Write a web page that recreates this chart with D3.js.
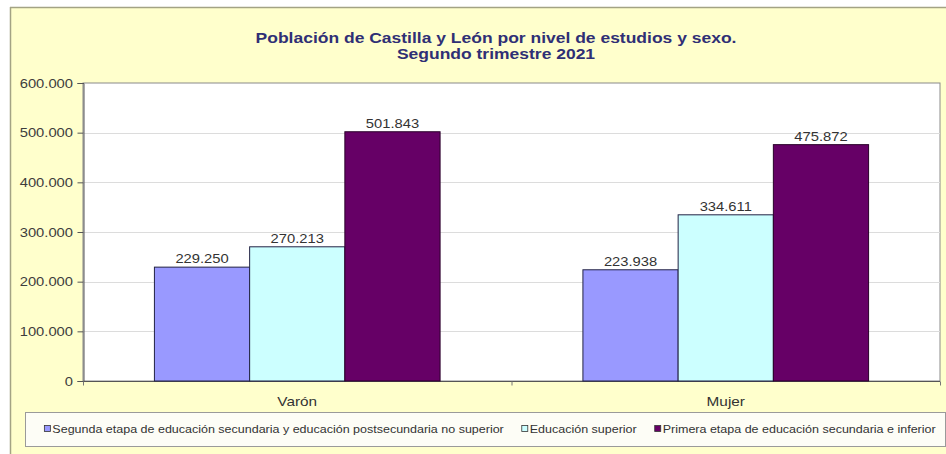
<!DOCTYPE html>
<html>
<head>
<meta charset="utf-8">
<script src="https://cdn.jsdelivr.net/npm/d3@7"></script>
<style>
  html, body { margin: 0; padding: 0; background: #ffffff; }
  svg { display: block; font-family: "Liberation Sans", Arial, sans-serif; }
</style>
</head>
<body>
<svg id="chart" width="946" height="454"></svg>
<script>
// ---- data ----
const categories = ["Varón", "Mujer"];
const seriesNames = [
  "Segunda etapa de educación secundaria y educación postsecundaria no superior",
  "Educación superior",
  "Primera etapa de educación secundaria e inferior"
];
const segundaEtapa = [229250, 223938];
const educacionSuperior = [270213, 334611];
const primeraEtapa = [501843, 475872];
const yTicks = [0, 100000, 200000, 300000, 400000, 500000, 600000];
const titleLines = ["Población de Castilla y León por nivel de estudios y sexo.", "Segundo trimestre 2021"];
const seriesColors = ["#9999FF", "#CCFFFF", "#660066"];

// ---- layout ----
const W = 946, H = 454;
const SX = 1.18; // horizontal stretch of all text
const plot = { left: 83, top: 83, right: 940, bottom: 381 };
const svg = d3.select("#chart");

const locale = d3.formatLocale({ decimal: ",", thousands: ".", grouping: [3], currency: ["", "€"] });
const fmt = locale.format(",d");

function stretchedText(g, x, y, str, opts) {
  const t = g.append("text")
    .attr("transform", `translate(${x},${y}) scale(${opts.sx || SX},1)`)
    .attr("text-anchor", opts.anchor || "start")
    .attr("font-size", opts.size)
    .attr("font-weight", opts.weight || "normal")
    .attr("fill", opts.fill || "#333")
    .text(str);
  return t;
}

// outer chart area
svg.append("rect").attr("x", 10).attr("y", 7).attr("width", W - 10).attr("height", H - 7)
  .attr("fill", "#FFFFCC");
svg.append("line").attr("x1", 10).attr("x2", W).attr("y1", 7.5).attr("y2", 7.5)
  .attr("stroke", "#a3a384").attr("stroke-width", 1.5);
svg.append("line").attr("x1", 10.5).attr("x2", 10.5).attr("y1", 7).attr("y2", H)
  .attr("stroke", "#a3a384").attr("stroke-width", 1.5);

// title
const tg = svg.append("g");
titleLines.forEach((s, i) => {
  stretchedText(tg, 496, 43 + i * 15.5, s, { anchor: "middle", size: 14, sx: 1.25, weight: "bold", fill: "#2f2f75" });
});

// scales
const x0 = d3.scaleBand().domain(categories).range([plot.left, plot.right]).padding(0);
const bw = x0.bandwidth();
const gapHalf = bw * 0.75 / 4.5;
const x1 = d3.scaleBand().domain(d3.range(seriesNames.length)).range([gapHalf, bw - gapHalf]).padding(0);
const y = d3.scaleLinear().domain([0, 600000]).range([plot.bottom, plot.top]);

// plot area
svg.append("rect").attr("x", plot.left).attr("y", plot.top)
  .attr("width", plot.right - plot.left).attr("height", plot.bottom - plot.top)
  .attr("fill", "#ffffff").attr("stroke", "#8a8a8a").attr("stroke-width", 1);

// gridlines
svg.append("g").selectAll("line").data(yTicks.filter(d => d > 0 && d < 600000)).join("line")
  .attr("x1", plot.left).attr("x2", plot.right)
  .attr("y1", d => Math.round(y(d)) + 0.5).attr("y2", d => Math.round(y(d)) + 0.5)
  .attr("stroke", "#dcdcdc").attr("stroke-width", 1);

// y axis
const yAxis = svg.append("g").attr("transform", `translate(${plot.left + 0.5},0)`)
  .call(d3.axisLeft(y).tickValues(yTicks).tickSize(6).tickFormat(""));
yAxis.select(".domain").attr("stroke", "#555");
yAxis.selectAll(".tick line").attr("stroke", "#555");
const ylab = svg.append("g");
yTicks.forEach(v => {
  stretchedText(ylab, 73, y(v) + 4.5, fmt(v), { anchor: "end", size: 12.5, fill: "#3d3d3d" });
});

// x axis
const xAxisG = svg.append("g").attr("transform", `translate(0,${plot.bottom + 0.5})`);
xAxisG.append("line").attr("x1", plot.left).attr("x2", plot.right).attr("stroke", "#555");
const boundaries = [plot.left, ...categories.slice(1).map(c => x0(c)), plot.right];
xAxisG.selectAll("line.tk").data(boundaries).join("line").attr("class", "tk")
  .attr("x1", d => d + 0.5).attr("x2", d => d + 0.5).attr("y1", 0).attr("y2", 4).attr("stroke", "#777");
const xlab = svg.append("g");
categories.forEach(c => {
  stretchedText(xlab, x0(c) + bw / 2, 406, c, { anchor: "middle", size: 13, fill: "#333" });
});

// bars
const seriesValues = [segundaEtapa, educacionSuperior, primeraEtapa];
const barData = [];
categories.forEach((c, ci) => {
  seriesValues.forEach((vals, si) => barData.push({ c, si, v: vals[ci] }));
});
svg.append("g").selectAll("rect").data(barData).join("rect")
  .attr("x", d => x0(d.c) + x1(d.si))
  .attr("y", d => y(d.v))
  .attr("width", x1.bandwidth())
  .attr("height", d => plot.bottom - y(d.v))
  .attr("fill", d => seriesColors[d.si])
  .attr("stroke", d => d.si === 2 ? "#2a002a" : "#222244")
  .attr("stroke-width", 1);

const vlab = svg.append("g");
barData.forEach(d => {
  stretchedText(vlab, x0(d.c) + x1(d.si) + x1.bandwidth() / 2, y(d.v) - 4, fmt(d.v),
    { anchor: "middle", size: 12.5, fill: "#333" });
});

// legend
const legBox = { x: 25, y: 412, w: 920, h: 34 };
svg.append("rect").attr("x", legBox.x + 0.5).attr("y", legBox.y + 0.5)
  .attr("width", legBox.w).attr("height", legBox.h)
  .attr("fill", "#fdfdf6").attr("stroke", "#9a9a9a").attr("stroke-width", 1);
const lg = svg.append("g");
const items = seriesNames.map((name, i) => {
  const g = lg.append("g");
  g.append("rect").attr("x", 0).attr("y", -7).attr("width", 6).attr("height", 6)
    .attr("fill", seriesColors[i]).attr("stroke", "#333").attr("stroke-width", 0.8);
  const t = stretchedText(g, 8, 0, name, { size: 10.6, fill: "#333" });
  t.attr("transform", `translate(8,0) scale(${SX},1)`);
  const w = 8 + t.node().getComputedTextLength() * SX;
  return { g, w };
});
const itemGap = 18;
const total = d3.sum(items, d => d.w) + itemGap * (items.length - 1);
let cx = legBox.x + (legBox.w - total) / 2 + 5;
items.forEach(it => {
  it.g.attr("transform", `translate(${cx},${legBox.y + 20.5})`);
  cx += it.w + itemGap;
});
</script>
</body>
</html>
